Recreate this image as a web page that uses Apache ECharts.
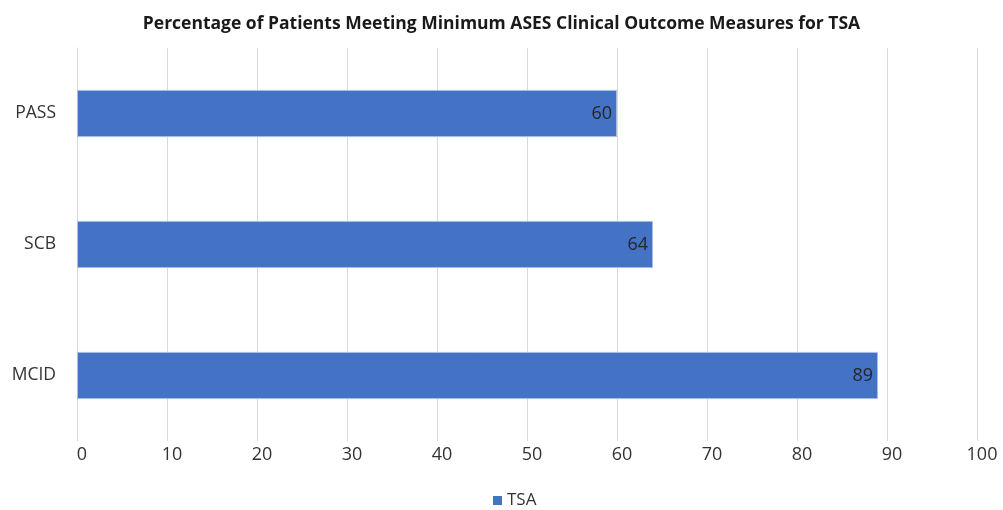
<!DOCTYPE html>
<html><head><meta charset="utf-8">
<script src="https://cdn.jsdelivr.net/npm/echarts@6/dist/echarts.min.js"></script>
<style>html,body{margin:0;padding:0;background:#fff}#c{width:1003px;height:510px}</style>
</head><body><div id="c"></div>
<script>
const categories = ['MCID', 'SCB', 'PASS'];
const tsaValues = [89, 64, 60];
const xTicks = [0, 10, 20, 30, 40, 50, 60, 70, 80, 90, 100];
const seriesName = 'TSA';
const titleText = 'Percentage of Patients Meeting Minimum ASES Clinical Outcome Measures for TSA';

const font = '"Open Sans", "Noto Sans", sans-serif';
const chart = echarts.init(document.getElementById('c'), null, {renderer: 'canvas'});
chart.setOption({
  animation: false,
  backgroundColor: '#fff',
  title: {
    text: titleText, left: 'center', top: 10,
    textStyle: {fontFamily: font, fontSize: 17.5, fontWeight: 'bold', color: '#1a1a1a'}
  },
  legend: {
    data: [seriesName], bottom: -4, left: 488, itemWidth: 9, itemHeight: 9, icon: 'rect',
    itemGap: 6, itemStyle: {borderWidth: 0},
    textStyle: {fontFamily: font, fontSize: 17, color: '#333'}
  },
  grid: {left: 77, right: 26, top: 48, bottom: 69, containLabel: false},
  xAxis: {
    type: 'value', min: xTicks[0], max: xTicks[xTicks.length - 1], interval: 10,
    axisLine: {show: false}, axisTick: {show: false},
    splitLine: {show: true, lineStyle: {color: '#d9d9d9', width: 1}},
    axisLabel: {fontFamily: font, fontSize: 18, color: '#333', margin: 5, padding: [0, 0, 0, 10]}
  },
  yAxis: {
    type: 'category', data: categories,
    axisLine: {show: true, lineStyle: {color: '#d9d9d9'}}, axisTick: {show: false},
    axisLabel: {fontFamily: font, fontSize: 17.5, color: '#333', margin: 21}
  },
  series: [{
    name: seriesName, type: 'bar', data: tsaValues, barWidth: '36%',
    itemStyle: {color: '#4472C4', borderColor: '#a9bde3', borderWidth: 1},
    label: {show: true, position: 'insideRight', distance: 5, fontFamily: font, fontSize: 18, color: '#262626'}
  }]
});
</script></body></html>
